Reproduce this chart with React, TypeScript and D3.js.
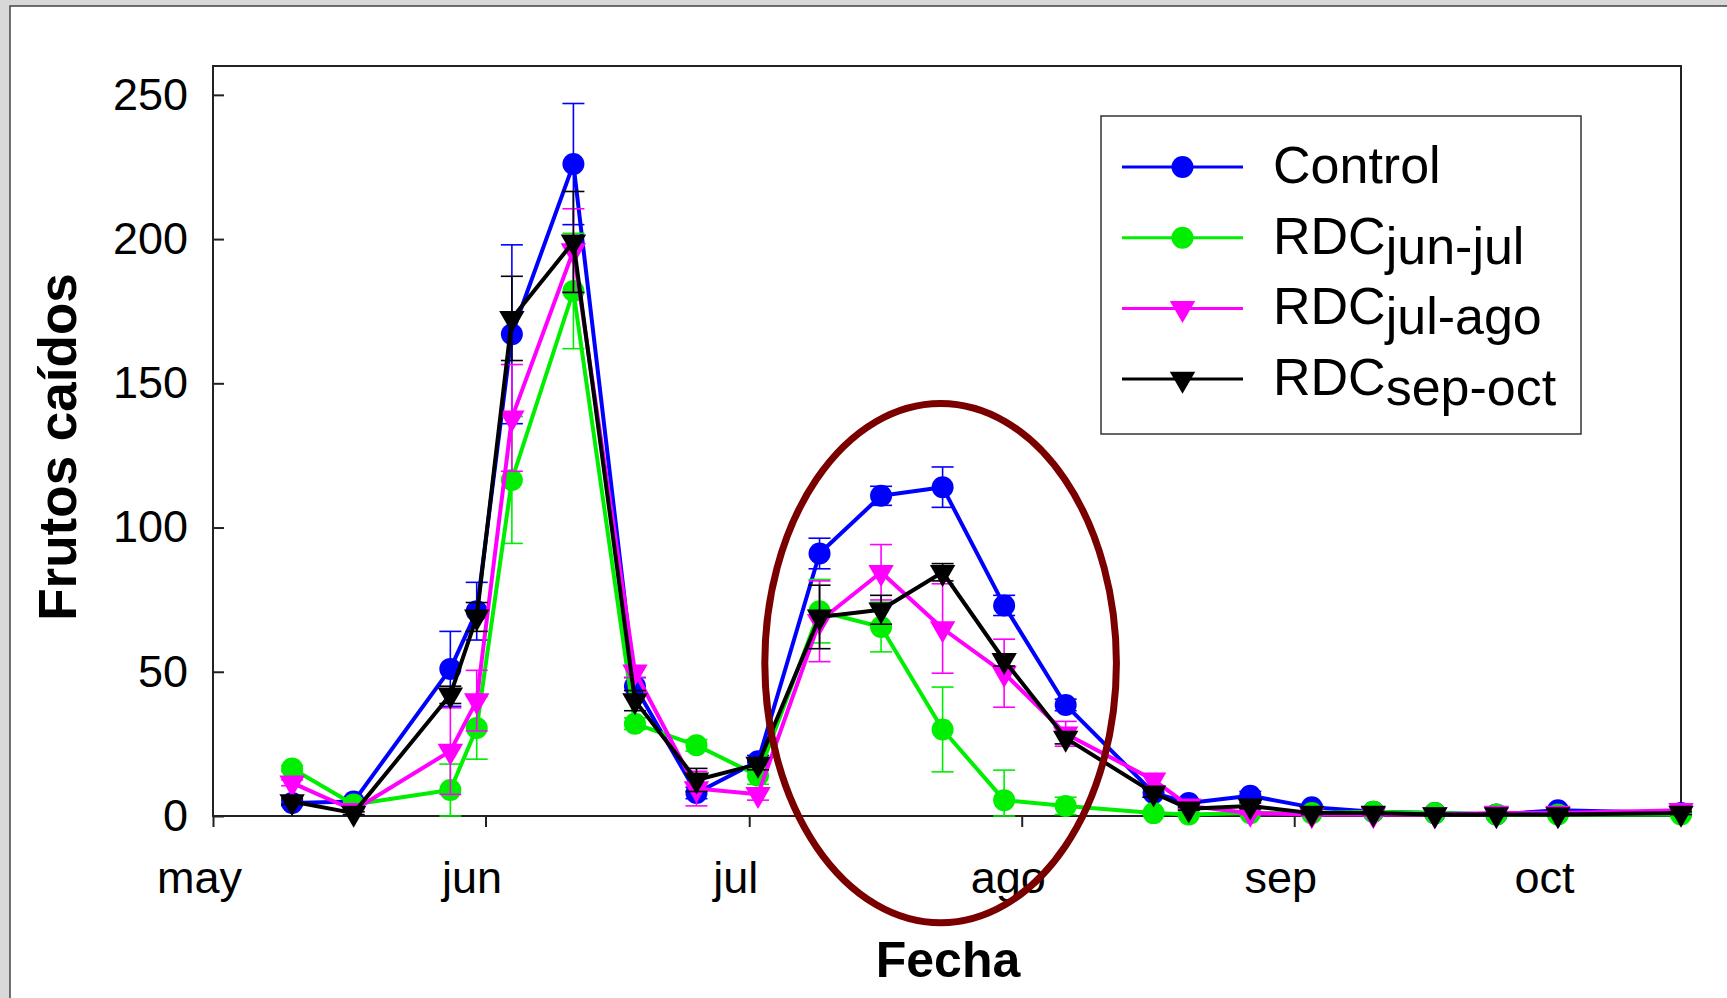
import React, { useRef, useEffect } from 'react';
import * as d3 from 'd3';

// fechas de muestreo (año arbitrario, sin bisiesto)
const fechas = [
  '2006-05-10', '2006-05-17', '2006-05-28', '2006-05-31', '2006-06-04', '2006-06-11',
  '2006-06-18', '2006-06-25', '2006-07-02', '2006-07-09', '2006-07-16', '2006-07-23',
  '2006-07-30', '2006-08-06', '2006-08-16', '2006-08-20', '2006-08-27', '2006-09-03',
  '2006-09-10', '2006-09-17', '2006-09-24', '2006-10-01', '2006-10-15',
];

const control = [4.5, 5, 51, 71, 167, 226, 45, 8, 19, 91, 111, 114, 73, 38.5, 8, 4.5, 7, 3, 1.5, 1, 0.5, 2, 1];
const controlSE = [1, 1, 13, 10, 31, 21, 3, 2, 2, 5.3, 3.3, 7, 3.5, 2, 1.5, 1, 1.5, 1, 0.5, 0.5, 0.5, 0.5, 0.5];

const rdcJunJul = [16.5, 4, 9, 30.5, 116.5, 182, 32, 24.5, 14, 71, 65.5, 30, 5.5, 3.5, 1, 0.5, 1, 1, 1.5, 1, 0.5, 0.5, 0.5];
const rdcJunJulSE = [1, 1, 9, 10.8, 22, 20, 2, 2, 3, 11, 8.6, 14.7, 10.4, 3, 0.5, 0.5, 0.5, 0.5, 0.5, 0.5, 0.5, 0.5, 0.5];

const rdcJulAgo = [11.5, 2, 22.5, 40, 138, 196, 50, 9.5, 7.5, 67.5, 84.5, 65, 49.5, 28.5, 12.5, 3.5, 1, 0.5, 0.5, 0.5, 1, 1, 2];
const rdcJulAgoSE = [1, 0.5, 15, 10.5, 18.5, 14.5, 2, 6, 2, 14, 9.6, 15.5, 11.8, 4.3, 2, 1, 0.5, 0.5, 0.5, 0.5, 0.5, 0.5, 0.5];

const rdcSepOct = [5, 1, 42, 69, 172.5, 199, 40, 12.5, 18, 69, 71.5, 84.5, 54, 27, 8, 2.5, 3.5, 1, 1, 0.5, 0.5, 0.5, 1];
const rdcSepOctSE = [1, 0.5, 3, 5, 14.6, 17.5, 3.5, 4, 2, 11, 5, 3, 2, 2, 1.5, 0.5, 1, 0.5, 0.5, 0.5, 0.5, 0.5, 0.5];

const meses = ['may', 'jun', 'jul', 'ago', 'sep', 'oct'];
const yTicks = [0, 50, 100, 150, 200, 250];

// elipse que marca el segundo pico (en unidades de datos)
const elipseFecha = '2006-07-23';
const elipseDias = 20;
const elipseValor = 53;
const elipseAlto = 90;

const series = [
  { base: 'Control', sub: '', values: control, se: controlSE, color: '#0000ff', shape: 'circle' },
  { base: 'RDC', sub: 'jun-jul', values: rdcJunJul, se: rdcJunJulSE, color: '#00ee00', shape: 'circle' },
  { base: 'RDC', sub: 'jul-ago', values: rdcJulAgo, se: rdcJulAgoSE, color: '#ff00ff', shape: 'triangle' },
  { base: 'RDC', sub: 'sep-oct', values: rdcSepOct, se: rdcSepOctSE, color: '#000000', shape: 'triangle' },
];

const W = 1727;
const H = 998;
const FONT = '"Liberation Sans", Arial, Helvetica, sans-serif';

const App = () => {
  const svgRef = useRef(null);

  useEffect(() => {
    const svg = d3.select(svgRef.current);
    svg.selectAll('*').remove();

    const margin = { top: 66, right: 46, bottom: 182, left: 213 };
    const parse = d3.utcParse('%Y-%m-%d');
    const dates = fechas.map(f => parse(f));

    const x = d3.scaleUtc()
      .domain([Date.UTC(2006, 4, 1), Date.UTC(2006, 9, 15)])
      .range([margin.left, W - margin.right]);
    const y = d3.scaleLinear()
      .domain([0, 260])
      .range([H - margin.bottom, margin.top]);

    // fondo gris y panel blanco
    svg.append('rect').attr('width', W).attr('height', H).attr('fill', '#d8d8d8');
    svg.append('rect')
      .attr('x', 10).attr('y', 6).attr('width', W).attr('height', H)
      .attr('fill', '#fff').attr('stroke', '#444').attr('stroke-width', 1.5);

    // ejes
    const gx = svg.append('g')
      .attr('transform', `translate(0,${H - margin.bottom})`)
      .call(d3.axisBottom(x)
        .ticks(d3.utcMonth.every(1))
        .tickSize(11)
        .tickPadding(34)
        .tickFormat(d => meses[d.getUTCMonth() - 4]));
    gx.select('.domain').remove();
    gx.selectAll('line').attr('stroke', '#222').attr('stroke-width', 2);
    gx.selectAll('text')
      .attr('dx', -14)
      .attr('font-size', 45)
      .attr('font-family', FONT)
      .attr('fill', '#000');

    const gy = svg.append('g')
      .attr('transform', `translate(${margin.left},0)`)
      .call(d3.axisLeft(y).tickValues(yTicks).tickSize(-11).tickPadding(25));
    gy.select('.domain').remove();
    gy.selectAll('line').attr('stroke', '#222').attr('stroke-width', 2);
    gy.selectAll('text')
      .attr('font-size', 45)
      .attr('font-family', FONT)
      .attr('fill', '#000');

    svg.append('rect')
      .attr('x', margin.left).attr('y', margin.top)
      .attr('width', W - margin.left - margin.right)
      .attr('height', H - margin.top - margin.bottom)
      .attr('fill', 'none').attr('stroke', '#222').attr('stroke-width', 2);

    // títulos
    svg.append('text')
      .attr('x', (margin.left + W - margin.right) / 2 + 1).attr('y', 977)
      .attr('text-anchor', 'middle')
      .attr('font-family', FONT).attr('font-weight', 'bold').attr('font-size', 50)
      .text('Fecha');
    svg.append('text')
      .attr('transform', `translate(76,${(margin.top + H - margin.bottom) / 2 + 6}) rotate(-90)`)
      .attr('text-anchor', 'middle')
      .attr('font-family', FONT).attr('font-weight', 'bold').attr('font-size', 53)
      .text('Frutos caídos');

    const triangle = d3.symbol().type(d3.symbolTriangle).size(280);
    const drawMarker = (g, s, cx, cy) => {
      if (s.shape === 'circle') {
        g.append('circle').attr('cx', cx).attr('cy', cy).attr('r', 11).attr('fill', s.color);
      } else {
        g.append('path')
          .attr('d', triangle())
          .attr('transform', `translate(${cx},${cy}) rotate(180)`)
          .attr('fill', s.color);
      }
    };

    const line = d3.line()
      .x(d => x(d.date))
      .y(d => y(d.value));

    series.forEach(s => {
      const pts = s.values.map((v, i) => ({ date: dates[i], value: v, se: s.se[i] }));
      const g = svg.append('g');

      // barras de error
      pts.forEach(p => {
        const px = x(p.date);
        const lo = y(Math.max(0, p.value - p.se));
        const hi = y(p.value + p.se);
        g.append('line').attr('x1', px).attr('x2', px).attr('y1', lo).attr('y2', hi)
          .attr('stroke', s.color).attr('stroke-width', 1.6);
        [lo, hi].forEach(yy => {
          g.append('line').attr('x1', px - 11).attr('x2', px + 11).attr('y1', yy).attr('y2', yy)
            .attr('stroke', s.color).attr('stroke-width', 1.6);
        });
      });

      g.append('path')
        .datum(pts)
        .attr('fill', 'none')
        .attr('stroke', s.color)
        .attr('stroke-width', 4)
        .attr('stroke-linejoin', 'round')
        .attr('d', line);

      pts.forEach(p => drawMarker(g, s, x(p.date), y(p.value)));
    });

    // leyenda
    const leg = svg.append('g');
    leg.append('rect')
      .attr('x', 1101).attr('y', 116).attr('width', 480).attr('height', 318)
      .attr('fill', '#fff').attr('stroke', '#333').attr('stroke-width', 1.5);
    series.forEach((s, i) => {
      const ly = 167 + i * 70.7;
      leg.append('line').attr('x1', 1122).attr('x2', 1243).attr('y1', ly).attr('y2', ly)
        .attr('stroke', s.color).attr('stroke-width', 3);
      drawMarker(leg, s, 1182.5, ly);
      const t = leg.append('text')
        .attr('x', 1273).attr('y', ly + 16)
        .attr('font-family', FONT).attr('font-size', 52)
        .text(s.base);
      if (s.sub) t.append('tspan').attr('dy', 10).text(s.sub);
    });

    // elipse
    const ec = parse(elipseFecha);
    const cx = x(ec);
    const rx = x(d3.utcDay.offset(ec, elipseDias)) - cx;
    const cy = y(elipseValor);
    const ry = y(0) - y(elipseAlto);
    svg.append('ellipse')
      .attr('cx', cx - 2).attr('cy', cy).attr('rx', rx).attr('ry', ry)
      .attr('fill', 'none').attr('stroke', '#7a0000').attr('stroke-width', 7);
  }, []);

  return (
    <svg
      ref={svgRef}
      width={W}
      height={H}
      style={{ position: 'absolute', left: 0, top: 0, display: 'block' }}
    />
  );
};

export default App;
